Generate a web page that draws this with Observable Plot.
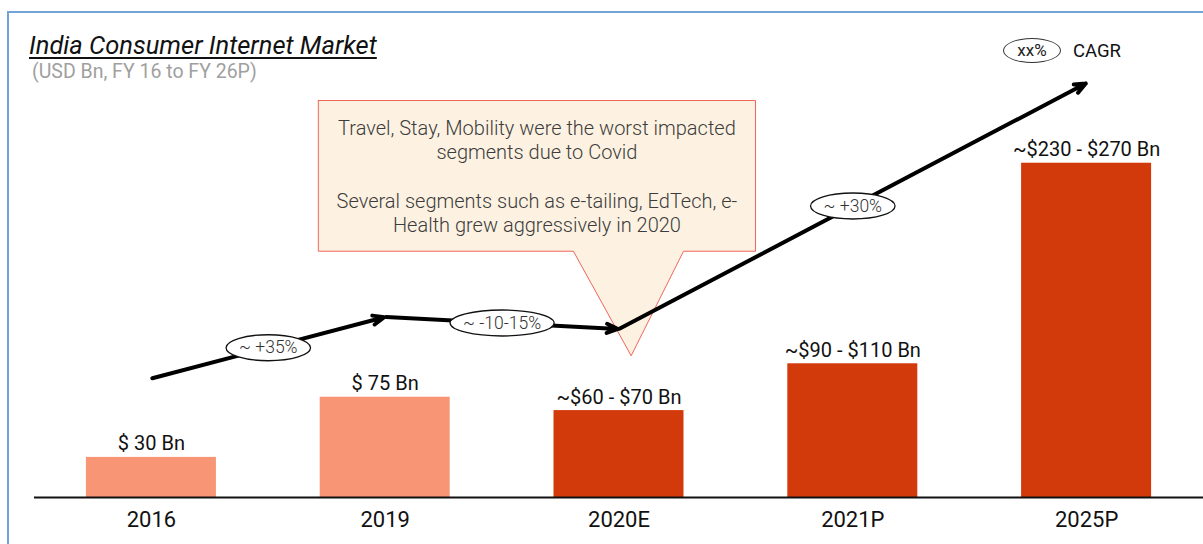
<!DOCTYPE html>
<html>
<head>
<meta charset="utf-8">
<script src="https://cdn.jsdelivr.net/npm/d3@7"></script>
<script src="https://cdn.jsdelivr.net/npm/@observablehq/plot@0.6"></script>
<style>
  html, body { margin: 0; padding: 0; background: #fff; overflow: hidden; width: 1203px; height: 544px; }
  #wrap { position: relative; width: 1203px; height: 544px; font-family: Roboto, "Noto Sans", sans-serif; }
  #chart { position: absolute; left: 0; top: 0; }
  #frame { position: absolute; left: 7px; top: 11px; width: 1300px; height: 700px; border: 2px solid #74A3D8; box-sizing: border-box; pointer-events: none; }
  #title { position: absolute; left: 29px; top: 33px; font-size: 25.5px; line-height: 25px; font-style: italic; text-decoration: underline; text-underline-offset: 3px; text-decoration-thickness: 1.5px; color: #111; white-space: nowrap; }
  #subtitle { position: absolute; left: 32px; top: 62px; font-size: 19.5px; line-height: 19px; color: #9f9f9f; white-space: nowrap; }
  #legend { position: absolute; left: 1003px; top: 38px; display: flex; align-items: center; white-space: nowrap; }
  #legend .oval { width: 56px; height: 23px; border: 1px solid #333; border-radius: 50%; text-align: center; line-height: 23px; font-size: 17px; color: #222; }
  #legend .lab { margin-left: 12px; font-size: 18.5px; color: #111; }
</style>
</head>
<body>
<div id="wrap">
  <div id="chart"></div>
  <div id="frame"></div>
  <div id="title">India Consumer Internet Market</div>
  <div id="subtitle">(USD Bn, FY 16 to FY 26P)</div>
  <div id="legend"><div class="oval">xx%</div><div class="lab">CAGR</div></div>
</div>
<script>
// ---------- data ----------
const categories = ["2016", "2019", "2020E", "2021P", "2025P"];
const values = [30, 75, 65, 100, 250];
const valueLabels = ["$ 30 Bn", "$ 75 Bn", "~$60 - $70 Bn", "~$90 - $110 Bn", "~$230 - $270 Bn"];
const phases = ["Actual", "Actual", "Estimate", "Projection", "Projection"];

// trend (CAGR) line: level above each category, in market-size units
const trendCategories = ["2016", "2019", "2020E", "2025P"];
const trendLevels = [89, 135, 126, 310];
const cagrLabels = ["~ +35%", "~ -10-15%", "~ +30%"];

// callout annotation (x in category index units, y in market-size units)
const calloutLines = [
  "Travel, Stay, Mobility were the worst impacted",
  "segments due to Covid",
  "",
  "Several segments such as e-tailing, EdTech, e-",
  "Health grew aggressively in 2020"
];
const calloutBox = {x1: 0.714, x2: 2.584, y1: 184.2, y2: 296.9};
const calloutPointer = {xLeft: 1.805, xRight: 2.276, tipX: 2.052, tipY: 106};

// ---------- build ----------
const idx = (c) => categories.indexOf(c);
const bars = categories.map((c, i) => ({i, category: c, value: values[i], label: valueLabels[i], phase: phases[i]}));
const segs = trendLevels.slice(1).map((lv, k) => ({
  x1: idx(trendCategories[k]), y1: trendLevels[k],
  x2: idx(trendCategories[k + 1]), y2: lv,
  label: cagrLabels[k]
}));
const b = calloutBox, p = calloutPointer;
const calloutPath = [
  [b.x1, b.y2], [b.x2, b.y2], [b.x2, b.y1], [p.xRight, b.y1], [p.tipX, p.tipY],
  [p.xLeft, b.y1], [b.x1, b.y1], [b.x1, b.y2]
].map(([x, y]) => ({x, y}));

const ctx2d = document.createElement("canvas").getContext("2d");
ctx2d.font = "300 17.5px Roboto";
const textW = (s) => ctx2d.measureText(s).width;

function ellipse(rx, ry) {
  const k = 0.5523;
  return {
    draw(c) {
      c.moveTo(rx, 0);
      c.bezierCurveTo(rx, ry * k, rx * k, ry, 0, ry);
      c.bezierCurveTo(-rx * k, ry, -rx, ry * k, -rx, 0);
      c.bezierCurveTo(-rx, -ry * k, -rx * k, -ry, 0, -ry);
      c.bezierCurveTo(rx * k, -ry, rx, -ry * k, rx, 0);
      c.closePath();
    }
  };
}

const halfBar = 0.278;

const plot = Plot.plot({
  width: 1203,
  height: 544,
  marginLeft: 34,
  marginRight: 0,
  marginTop: 0,
  marginBottom: 47,
  style: {background: "transparent", fontFamily: "Roboto, 'Noto Sans', sans-serif", fontSize: "22px", color: "#111", overflow: "visible"},
  x: {domain: [-0.5, 4.5], ticks: 5, tickFormat: (i) => categories[i] ?? "", tickSize: 0, tickPadding: 14, label: null},
  y: {domain: [0, 371.7], axis: null},
  color: {domain: ["Actual", "Estimate", "Projection"], range: ["#F79574", "#D2390B", "#D2390B"]},
  marks: [
    Plot.rect(bars, {x1: (d) => d.i - halfBar, x2: (d) => d.i + halfBar, y1: 0, y2: "value", fill: "phase"}),
    Plot.ruleY([0], {stroke: "#111", strokeWidth: 1.8}),
    Plot.text(bars, {x: "i", y: "value", text: "label", lineAnchor: "bottom", dy: -7, fontSize: 20, fill: "#111"}),
    Plot.line(calloutPath, {x: "x", y: "y", fill: "#FDF2E2", stroke: "#F0645A", strokeWidth: 1, curve: "linear"}),
    Plot.text([calloutLines.join("\n")], {
      x: (b.x1 + b.x2) / 2, y: (b.y1 + b.y2) / 2, text: (d) => d,
      lineAnchor: "middle", lineHeight: 1.21, fontSize: 20, fontWeight: 300, fill: "#3c3c3c"
    }),
    Plot.arrow(segs, {x1: "x1", y1: "y1", x2: "x2", y2: "y2", stroke: "#000", strokeWidth: 4, headLength: 4.5, headAngle: 45, insetStart: 1, insetEnd: 1}),
    ...segs.map((s) => Plot.dot([s], {
      x: (d) => (d.x1 + d.x2) / 2, y: (d) => (d.y1 + d.y2) / 2,
      symbol: ellipse(textW(s.label) / 2 + 13, 13), r: 5,
      fill: "white", stroke: "#111", strokeWidth: 1.3
    })),
    Plot.text(segs, {x: (d) => (d.x1 + d.x2) / 2, y: (d) => (d.y1 + d.y2) / 2, text: "label", fontSize: 17.5, fontWeight: 300, fill: "#333"})
  ]
});
document.getElementById("chart").appendChild(plot);
</script>
</body>
</html>
